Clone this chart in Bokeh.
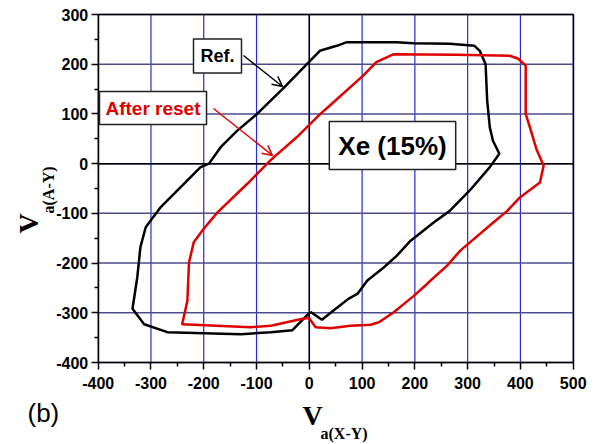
import math
from bokeh.plotting import figure
from bokeh.models import (Label, Arrow, OpenHead, FixedTicker, Range1d, LinearAxis)
from bokeh.embed import file_html
from bokeh.resources import INLINE

# ---- data ----
ref_x = [2, 24, 50, 74, 91, 110, 141, 166, 192, 235, 266, 304, 342, 360, 348, 342,
         337, 334, 323, 313, 266, 197, 165, 115, 70, 52, 20, 0, -48, -99, -137,
         -168, -190, -206, -282, -301, -310, -320, -326, -335, -313, -269, -130,
         -73, -32, 2]
ref_y = [-298, -314, -292, -272, -262, -235, -209, -185, -155, -119, -95, -54, -7, 20,
         46, 73, 127, 200, 227, 237, 241, 242, 244, 244, 244, 237, 227, 205, 153,
         100, 66, 33, 0, -7, -88, -115, -128, -168, -229, -292, -323, -339, -343,
         -339, -335, -298]

reset_x = [-1, 12, 40, 78, 116, 132, 160, 198, 223, 230, 261, 286, 348, 375, 399,
           437, 444, 430, 418, 410, 410, 396, 380, 279, 159, 127, 102, 39, 21, -24,
           -67, -77, -118, -174, -200, -219, -228, -231, -241, -111, -73, -17, -1]
reset_y = [-310, -329, -331, -326, -324, -319, -299, -266, -242, -235, -205, -175,
           -119, -95, -68, -38, -4, 30, 73, 100, 197, 211, 217, 219, 220, 204, 177,
           117, 100, 53, 13, 3, -41, -98, -131, -158, -199, -276, -323, -329, -326,
           -313, -310]

x_ticks = [-400, -300, -200, -100, 0, 100, 200, 300, 400, 500]
y_ticks = [-400, -300, -200, -100, 0, 100, 200, 300]
x_minor = [t + 50 for t in x_ticks[:-1]]
y_minor = [t + 50 for t in y_ticks[:-1]]

# ---- layout (pixels) ----
W, H = 596, 444
L, R, T, B = 97.7, 572.7, 14.0, 362.0
kx = (R - L) / (x_ticks[-1] - x_ticks[0])
ky = (B - T) / (y_ticks[-1] - y_ticks[0])


def fx(px):
    return x_ticks[0] + (px - L) / kx


def fy(py):
    return y_ticks[-1] - (py - T) / ky


p = figure(width=W, height=H, output_backend="svg", toolbar_location=None,
           x_range=Range1d(fx(0), fx(W)), y_range=Range1d(fy(H), fy(0)),
           min_border=0, min_border_left=0, min_border_right=0,
           min_border_top=0, min_border_bottom=0)
p.background_fill_color = "white"
p.border_fill_color = "white"
p.outline_line_color = None
p.grid.visible = False

# grid lines
nx, ny = len(x_ticks), len(y_ticks)
p.segment(x0=x_ticks, x1=x_ticks, y0=[y_ticks[0]] * nx, y1=[y_ticks[-1]] * nx,
          line_color="#2a2ad8", line_width=1.2)
p.segment(x0=[x_ticks[0]] * ny, x1=[x_ticks[-1]] * ny, y0=y_ticks, y1=y_ticks,
          line_color="#4c4c8c", line_width=1.5)
# zero lines
p.segment(x0=[0], x1=[0], y0=[y_ticks[0]], y1=[y_ticks[-1]], line_color="black",
          line_width=1.5)
p.segment(x0=[x_ticks[0]], x1=[x_ticks[-1]], y0=[0], y1=[0], line_color="black",
          line_width=1.5)

# curves
p.line(ref_x, ref_y, line_color="black", line_width=2.5)
p.line(reset_x, reset_y, line_color="#e00000", line_width=2.5)

# axes
xt = FixedTicker(ticks=x_ticks, minor_ticks=x_minor)
yt = FixedTicker(ticks=y_ticks, minor_ticks=y_minor)
xa = p.xaxis[0]
ya = p.yaxis[0]
xa.ticker = xt
ya.ticker = yt
xa.fixed_location = y_ticks[0]
ya.fixed_location = x_ticks[0]
xa.bounds = (x_ticks[0], x_ticks[-1])
ya.bounds = (y_ticks[0], y_ticks[-1])
xa.major_label_overrides = {t: str(t) for t in x_ticks}
ya.major_label_overrides = {t: str(t) for t in y_ticks}
for ax in (xa, ya):
    ax.axis_line_color = "black"
    ax.axis_line_width = 1.5
    ax.major_tick_line_color = "black"
    ax.major_tick_line_width = 1.5
    ax.minor_tick_line_color = "black"
    ax.minor_tick_line_width = 1.5
    ax.major_tick_out = 7
    ax.major_tick_in = 0
    ax.minor_tick_out = 4
    ax.minor_tick_in = 0
    ax.major_label_text_font = "Liberation Sans"
    ax.major_label_text_font_style = "bold"
    ax.major_label_text_font_size = "16px"
    ax.major_label_text_color = "black"
xa.major_label_standoff = 7
ya.major_label_standoff = 3

# frame top / right edges
top = LinearAxis(fixed_location=y_ticks[-1], bounds=(x_ticks[0], x_ticks[-1]),
                 ticker=FixedTicker(ticks=[]), axis_line_color="black",
                 axis_line_width=1.5, major_tick_line_color=None,
                 minor_tick_line_color=None, major_label_text_color=None)
right = LinearAxis(fixed_location=x_ticks[-1], bounds=(y_ticks[0], y_ticks[-1]),
                   ticker=FixedTicker(ticks=[]), axis_line_color="black",
                   axis_line_width=1.5, major_tick_line_color=None,
                   minor_tick_line_color=None, major_label_text_color=None)
p.add_layout(top, "above")
p.add_layout(right, "right")


# annotation boxes
def box_label(px, py, text, color, size, pad):
    return Label(x=fx(px), y=fy(py), text=text, text_align="center",
                 text_baseline="middle", text_font="Liberation Sans",
                 text_font_style="bold", text_font_size=size, text_color=color,
                 background_fill_color="white", border_line_color="#222222",
                 border_line_width=1.5, padding=pad)


p.add_layout(box_label(217, 55.5, "Ref.", "black", "18px", 7))
p.add_layout(box_label(152.5, 107.5, "After reset", "#e00000", "19px", 6))
p.add_layout(box_label(392, 145, "Xe (15%)", "black", "26px", 9))

p.add_layout(Arrow(end=OpenHead(size=10, line_color="black", line_width=1.5),
                   x_start=fx(243), y_start=fy(55), x_end=fx(282), y_end=fy(86),
                   line_color="black", line_width=1.5))
p.add_layout(Arrow(end=OpenHead(size=10, line_color="#e00000", line_width=1.5),
                   x_start=fx(213), y_start=fy(108), x_end=fx(272), y_end=fy(155),
                   line_color="#e00000", line_width=1.5))


def txt(px, py, text, font, size, style="bold", angle=0.0):
    return Label(x=fx(px), y=fy(py), text=text, text_font=font,
                 text_font_style=style, text_font_size=size, angle=angle,
                 text_align="left", text_baseline="alphabetic", text_color="black")


# axis titles
p.add_layout(txt(302, 415, "V", "Liberation Serif", "28px"))
p.add_layout(txt(320, 433, "a(X-Y)", "Liberation Serif", "16px"))
p.add_layout(txt(28, 233, "V", "Liberation Serif", "28px", angle=math.pi / 2))
p.add_layout(txt(47.5, 213, "a(A-Y)", "Liberation Serif", "16px", angle=math.pi / 2))
p.add_layout(txt(27, 412, "(b)", "Liberation Sans", "26px", style="normal"))

open("out.html", "w").write(file_html(p, INLINE))
